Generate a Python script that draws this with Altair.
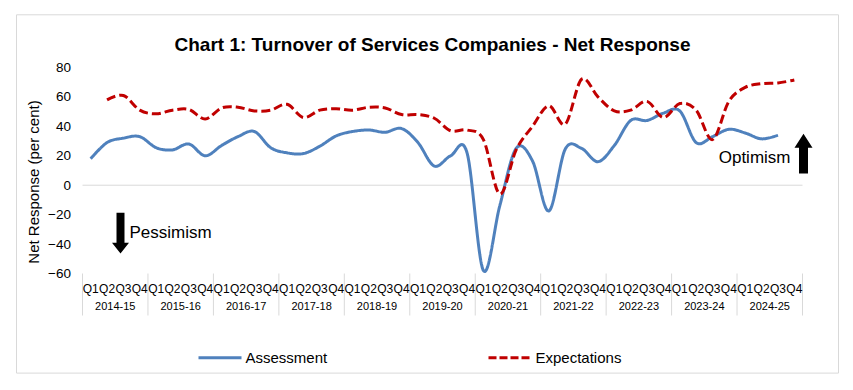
import altair as alt
import pandas as pd

years = ["2014-15", "2015-16", "2016-17", "2017-18", "2018-19", "2019-20",
         "2020-21", "2021-22", "2022-23", "2023-24", "2024-25"]
quarters = ["Q1", "Q2", "Q3", "Q4"]

# Assessment: Q1 2014-15 .. Q3 2024-25
assessment = [18, 29, 32, 33,
              25.5, 24, 28, 20,
              27, 33, 36.5, 25.5,
              22, 21.5, 26.5, 33.5,
              36.5, 37.5, 36, 38.5,
              29, 13, 20, 22,
              -58, -14, 25, 16.5,
              -17.5, 24.5, 25, 16,
              27, 44, 44, 49,
              50.5, 29, 33, 38,
              35.5, 31.5, 34]
# Expectations: Q2 2014-15 .. Q4 2024-25
expectations = [58, 61, 51,
                48.5, 51, 51.5, 45,
                52.5, 53, 50.5, 51,
                55, 46, 51, 52,
                51, 53, 52.5, 48,
                48, 45.5, 37, 37.5,
                31, -6, 24, 40,
                54, 41.5, 72, 60,
                50.5, 51, 57, 46,
                55.5, 51, 31, 57,
                66.5, 69, 69.5, 71.5]

series_names = ["Assessment", "Expectations"]
series_colors = ["#4F81BD", "#C00000"]

FONT = "Liberation Sans"
W, H = 720, 206

rows = []
for i, v in enumerate(assessment):
    rows.append({"pos": i + 0.5, "value": v, "series": "Assessment"})
for i, v in enumerate(expectations):
    rows.append({"pos": i + 1.5, "value": v, "series": "Expectations"})
df = pd.DataFrame(rows)

nq = len(years) * 4
qdf = pd.DataFrame({"pos": [i + 0.5 for i in range(nq)],
                    "label": [quarters[i % 4] for i in range(nq)]})
ydf = pd.DataFrame({"pos": [4 * k + 2 for k in range(len(years))], "label": years})
sdf = pd.DataFrame({"pos": [4 * k for k in range(len(years) + 1)]})
one = pd.DataFrame({"a": [0]})

xscale = alt.Scale(domain=[0, nq], nice=False, zero=False)
yscale = alt.Scale(domain=[-60, 80], nice=False, zero=False)
X = lambda: alt.X("pos:Q", scale=xscale, axis=None)
yaxis = alt.Axis(values=[-60, -40, -20, 0, 20, 40, 60, 80],
                 title="Net Response (per cent)", grid=False,
                 domain=False, ticks=False, labelPadding=12,
                 labelFont=FONT, labelFontSize=13.5, labelColor="black",
                 titleFont=FONT, titleFontSize=15, titleFontWeight="normal",
                 titleColor="black", titlePadding=6, titleY=114)

zero = alt.Chart(pd.DataFrame({"y": [0]})).mark_rule(color="#D9D9D9", strokeWidth=1).encode(
    y=alt.Y("y:Q", scale=yscale, axis=yaxis), x=alt.value(0), x2=alt.value(W))

lines = alt.Chart(df).mark_line(interpolate="cardinal", strokeWidth=3).encode(
    x=X(),
    y=alt.Y("value:Q", scale=yscale, axis=yaxis),
    color=alt.Color("series:N", scale=alt.Scale(domain=series_names, range=series_colors),
                    legend=None),
    strokeDash=alt.StrokeDash("series:N",
                              scale=alt.Scale(domain=series_names, range=[[1, 0], [9, 4]]),
                              legend=None),
)

bx0, bx1, by0, by1 = -66, 756, -52.7, 305.6
border = alt.layer(
    alt.Chart(one).mark_rule(color="#D9D9D9").encode(x=alt.value(bx0), x2=alt.value(bx1), y=alt.value(by0)),
    alt.Chart(one).mark_rule(color="#D9D9D9").encode(x=alt.value(bx0), x2=alt.value(bx1), y=alt.value(by1)),
    alt.Chart(one).mark_rule(color="#D9D9D9").encode(x=alt.value(bx0), y=alt.value(by0), y2=alt.value(by1)),
    alt.Chart(one).mark_rule(color="#D9D9D9").encode(x=alt.value(bx1), y=alt.value(by0), y2=alt.value(by1)),
)

qlabels = alt.Chart(qdf).mark_text(font=FONT, fontSize=12, baseline="middle", color="black").encode(
    x=X(), y=alt.value(221.5), text="label:N")
ylabels = alt.Chart(ydf).mark_text(font=FONT, fontSize=11, baseline="middle", color="black").encode(
    x=X(), y=alt.value(239.5), text="label:N")
seps = alt.Chart(sdf).mark_rule(color="#D9D9D9", strokeWidth=1).encode(
    x=X(), y=alt.value(H), y2=alt.value(248))

title = alt.Chart(one).mark_text(font=FONT, fontSize=19, fontWeight="bold", color="black",
                                 baseline="middle", align="center").encode(
    x=alt.value(350), y=alt.value(-22.7),
    text=alt.value("Chart 1: Turnover of Services Companies - Net Response"))

pess = alt.Chart(one).mark_text(font=FONT, fontSize=17, color="black", align="left",
                                baseline="middle").encode(
    x=alt.value(47), y=alt.value(165.5), text=alt.value("Pessimism"))
opt = alt.Chart(one).mark_text(font=FONT, fontSize=17, color="black", align="right",
                               baseline="middle").encode(
    x=alt.value(708), y=alt.value(90.5), text=alt.value("Optimism"))

# manual legend
leg_y = 290.3
leg_a_line = alt.Chart(one).mark_rule(color=series_colors[0], strokeWidth=3).encode(
    x=alt.value(116), x2=alt.value(159), y=alt.value(leg_y))
leg_a_text = alt.Chart(one).mark_text(font=FONT, fontSize=15, color="black", align="left",
                                      baseline="middle").encode(
    x=alt.value(163), y=alt.value(leg_y), text=alt.value(series_names[0]))
leg_e_line = alt.Chart(one).mark_rule(color=series_colors[1], strokeWidth=3, strokeDash=[8, 3]).encode(
    x=alt.value(406), x2=alt.value(448), y=alt.value(leg_y))
leg_e_text = alt.Chart(one).mark_text(font=FONT, fontSize=15, color="black", align="left",
                                      baseline="middle").encode(
    x=alt.value(453), y=alt.value(leg_y), text=alt.value(series_names[1]))

down_path = "M-0.47,-3.53L0.47,-3.53L0.47,0L1,0L0,1.26L-1,0L-0.47,0Z"
up_path = "M0,-1.55L1,0L0.5,0L0.5,2.85L-0.5,2.85L-0.5,0L-1,0Z"
down_arrow = alt.Chart(one).mark_point(shape=down_path, size=289, filled=True, color="black",
                                       opacity=1, strokeWidth=0).encode(
    x=alt.value(38), y=alt.value(175.3))
up_arrow = alt.Chart(one).mark_point(shape=up_path, size=324, filled=True, color="black",
                                     opacity=1, strokeWidth=0).encode(
    x=alt.value(721), y=alt.value(80.3))

chart = alt.layer(border, zero, seps, qlabels, ylabels, lines, title, pess, opt,
                  leg_a_line, leg_a_text, leg_e_line, leg_e_text,
                  down_arrow, up_arrow).properties(
    width=W, height=H,
    padding={"left": 7.5, "top": 5.5, "right": 5, "bottom": 5},
    background="white",
).configure_view(stroke=None)

chart.save("out.html", embed_options={"renderer": "svg", "actions": False})
